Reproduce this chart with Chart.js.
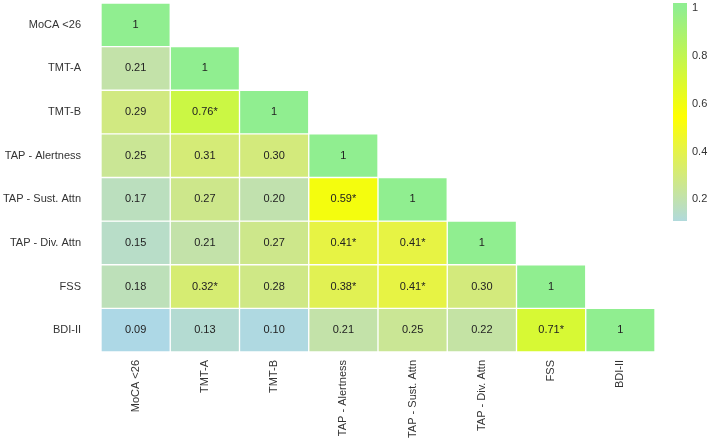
<!DOCTYPE html>
<html>
<head>
<meta charset="utf-8">
<script src="https://cdn.jsdelivr.net/npm/chart.js@4.4.0/dist/chart.umd.min.js"></script>
<style>
html, body { margin: 0; padding: 0; background: #fff; }
#wrap { position: relative; width: 708px; height: 440px; overflow: hidden; }
#main { position: absolute; left: 0; top: 0; }
#legend { position: absolute; left: 660px; top: 0; }
</style>
</head>
<body>
<div id="wrap">
  <canvas id="main" width="708" height="440"></canvas>
  <canvas id="legend" width="48" height="230"></canvas>
</div>
<script>
// VARIABLES (rows top to bottom, columns left to right)
const variables = ['MoCA <26', 'TMT-A', 'TMT-B', 'TAP - Alertness', 'TAP - Sust. Attn', 'TAP - Div. Attn', 'FSS', 'BDI-II'];

// lower triangle correlations, one array per row
const rowMoca  = [1];
const rowTmtA  = [0.21, 1];
const rowTmtB  = [0.29, 0.76, 1];
const rowAlert = [0.25, 0.31, 0.30, 1];
const rowSust  = [0.17, 0.27, 0.20, 0.59, 1];
const rowDiv   = [0.15, 0.21, 0.27, 0.41, 0.41, 1];
const rowFss   = [0.18, 0.32, 0.28, 0.38, 0.41, 0.30, 1];
const rowBdi   = [0.09, 0.13, 0.10, 0.21, 0.25, 0.22, 0.71, 1];
const corr = [rowMoca, rowTmtA, rowTmtB, rowAlert, rowSust, rowDiv, rowFss, rowBdi];

// significant cells (*) as [row, col]
const sigCells = [[2, 1], [4, 3], [5, 3], [5, 4], [6, 1], [6, 3], [6, 4], [7, 6]];

// colour scale
const scaleLow = 0.09, scaleMid = 0.545, scaleHigh = 1;
const legendTicks = [0.2, 0.4, 0.6, 0.8, 1];
const legendRange = [0.11, 1.02];
const colLow = [173, 216, 230], colMid = [255, 255, 0], colHigh = [144, 238, 144];

function mix(a, b, t) {
  return 'rgb(' + a.map((v, i) => Math.round(v + (b[i] - v) * t)).join(',') + ')';
}
function colorFor(v) {
  if (v <= scaleMid) return mix(colLow, colMid, Math.max(0, (v - scaleLow) / (scaleMid - scaleLow)));
  return mix(colMid, colHigh, Math.min(1, (v - scaleMid) / (scaleHigh - scaleMid)));
}
function isSig(r, c) {
  return sigCells.some(p => p[0] === r && p[1] === c);
}

const FONT = '"Liberation Sans", Arial, sans-serif';

// one floating-bar dataset per row
const datasets = corr.map((row, r) => ({
  label: variables[r],
  data: variables.map((_, c) => c <= r ? [r, r + 1] : null),
  backgroundColor: variables.map((_, c) => c <= r ? colorFor(row[c]) : 'rgba(0,0,0,0)'),
  borderColor: '#ffffff',
  borderWidth: 1,
  borderSkipped: false,
  grouped: false,
  barPercentage: 1,
  categoryPercentage: 1
}));

// CELL TEXT
const cellLabels = {
  id: 'cellLabels',
  afterDatasetsDraw(chart) {
    const ctx = chart.ctx;
    ctx.save();
    ctx.font = '11px ' + FONT;
    ctx.fillStyle = '#222';
    ctx.textAlign = 'center';
    ctx.textBaseline = 'middle';
    corr.forEach((row, r) => {
      const meta = chart.getDatasetMeta(r);
      row.forEach((v, c) => {
        const bar = meta.data[c];
        const txt = v === 1 ? '1' : v.toFixed(2) + (isSig(r, c) ? '*' : '');
        ctx.fillText(txt, bar.x, (bar.y + bar.base) / 2);
      });
    });
    ctx.restore();
  }
};

new Chart(document.getElementById('main'), {
  type: 'bar',
  data: { labels: variables, datasets: datasets },
  options: {
    responsive: false,
    animation: false,
    layout: { padding: { top: 3, right: 53, left: 0, bottom: 0 } },
    plugins: { legend: { display: false }, tooltip: { enabled: false } },
    scales: {
      x: {
        type: 'category',
        grid: { display: false, drawTicks: false },
        border: { display: false },
        ticks: {
          autoSkip: false,
          maxRotation: 90,
          minRotation: 90,
          padding: 8,
          color: '#333',
          font: { family: FONT, size: 11 }
        },
        afterFit: s => { s.height = 88; s.paddingLeft = 0; s.paddingRight = 0; }
      },
      y: {
        type: 'linear',
        reverse: true,
        min: 0,
        max: variables.length,
        grid: { display: false, drawTicks: false },
        border: { display: false },
        afterBuildTicks: axis => { axis.ticks = variables.map((_, i) => ({ value: i + 0.5 })); },
        ticks: {
          padding: 20,
          color: '#333',
          font: { family: FONT, size: 11 },
          callback: v => variables[Math.floor(v)]
        },
        afterFit: s => { s.width = 101; s.paddingTop = 0; s.paddingBottom = 0; }
      }
    }
  },
  plugins: [cellLabels]
});

// COLOUR BAR
new Chart(document.getElementById('legend'), {
  type: 'bar',
  data: {
    labels: [''],
    datasets: [{
      data: [legendRange],
      backgroundColor: context => {
        const chart = context.chart;
        if (!chart.chartArea) return null;
        const ys = chart.scales.y;
        const g = chart.ctx.createLinearGradient(0, ys.getPixelForValue(scaleLow), 0, ys.getPixelForValue(scaleHigh));
        g.addColorStop(0, mix(colLow, colLow, 0));
        g.addColorStop((scaleMid - scaleLow) / (scaleHigh - scaleLow), mix(colMid, colMid, 0));
        g.addColorStop(1, mix(colHigh, colHigh, 0));
        return g;
      },
      borderWidth: 0,
      barPercentage: 1,
      categoryPercentage: 1
    }]
  },
  options: {
    responsive: false,
    animation: false,
    layout: { padding: { top: 3, left: 13, bottom: 9, right: 0 } },
    plugins: { legend: { display: false }, tooltip: { enabled: false } },
    scales: {
      x: { display: false },
      y: {
        position: 'right',
        min: legendRange[0],
        max: legendRange[1],
        grid: { display: false, drawTicks: false },
        border: { display: false },
        afterBuildTicks: axis => { axis.ticks = legendTicks.map(v => ({ value: v })); },
        ticks: {
          padding: 5,
          color: '#333',
          font: { family: FONT, size: 11 },
          callback: v => v === 1 ? '1' : v.toFixed(1)
        },
        afterFit: s => { s.width = 21; s.paddingTop = 0; s.paddingBottom = 0; }
      }
    }
  }
});
</script>
</body>
</html>
